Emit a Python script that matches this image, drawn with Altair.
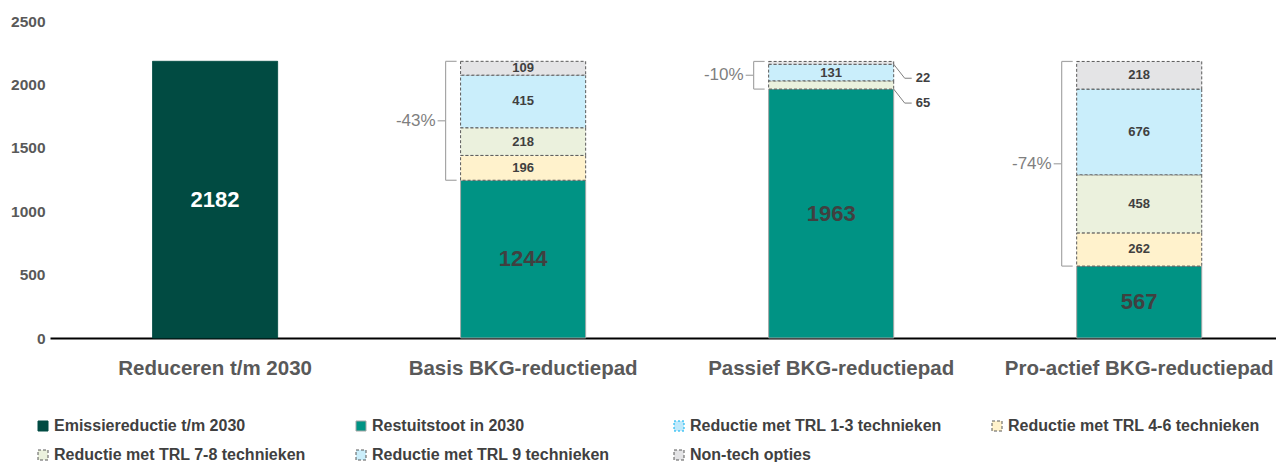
import altair as alt
import pandas as pd

FONT = "Liberation Sans, Arial, sans-serif"

categories = ["Reduceren t/m 2030", "Basis BKG-reductiepad",
              "Passief BKG-reductiepad", "Pro-actief BKG-reductiepad"]
series = ["Emissiereductie t/m 2030", "Restuitstoot in 2030",
          "Reductie met TRL 1-3 technieken", "Reductie met TRL 4-6 technieken",
          "Reductie met TRL 7-8 technieken", "Reductie met TRL 9 technieken",
          "Non-tech opties"]
emissiereductie = [2182, 0, 0, 0]
restuitstoot = [0, 1244, 1963, 567]
trl_1_3 = [0, 0, 0, 0]
trl_4_6 = [0, 196, 0, 262]
trl_7_8 = [0, 218, 65, 458]
trl_9 = [0, 415, 131, 676]
non_tech = [0, 109, 22, 218]
reduction_pct = ["", "-43%", "-10%", "-74%"]
y_ticks = [0, 500, 1000, 1500, 2000, 2500]

fills = ["#014b42", "#009384", "#bfe9fb", "#fff2cc", "#ebf1dd", "#caeefb", "#e4e4e6"]
strokes = ["#014b42", "#a6a6a6", "#00b0f0", "#595959", "#595959", "#595959", "#595959"]
dashes = [[1, 0], [1, 0], [2, 2], [3, 2], [3, 2], [3, 2], [3, 2]]

stack = [emissiereductie, restuitstoot, trl_1_3, trl_4_6, trl_7_8, trl_9, non_tech]
rows = []
for i, c in enumerate(categories):
    base = 0
    for s, vals in zip(series, stack):
        v = vals[i]
        if v > 0:
            rows.append(dict(cat=c, series=s, start=base, end=base + v,
                             mid=base + v / 2, value=v))
            base += v
df = pd.DataFrame(rows)
df["kind"] = "small"
df.loc[df.series == series[0], "kind"] = "white"
df.loc[df.series == series[1], "kind"] = "big"
df.loc[(df.kind == "small") & (df.value < 100), "kind"] = "outside"

br = []
for i, c in enumerate(categories):
    if reduction_pct[i]:
        total = sum(v[i] for v in stack)
        rest = restuitstoot[i]
        br.append(dict(cat=c, top=total, bottom=rest, mid=(total + rest) / 2,
                       label=reduction_pct[i]))
dfb = pd.DataFrame(br)

xscale = alt.Scale(domain=categories, paddingInner=0.594, paddingOuter=0.287, align=0.58)
yscale = alt.Scale(domain=[0, 2500], nice=False, zero=True)

legend = alt.Legend(title=None, orient="none", legendX=-15, legendY=397, columns=4,
                    direction="horizontal", gridAlign="all", columnPadding=47,
                    rowPadding=13, symbolType="square", symbolSize=100,
                    symbolStrokeWidth=1, labelFont=FONT, labelFontSize=16,
                    labelFontWeight="bold", labelColor="#404040", labelLimit=400,
                    labelOffset=3)

xenc = alt.X("cat:N", sort=categories, scale=xscale, title=None,
             axis=alt.Axis(labelFont=FONT, labelFontSize=20.5, labelFontWeight="bold",
                           labelColor="#595959", labelPadding=20, ticks=False,
                           labelLimit=400, domainColor="#000000", domainWidth=2,
                           labelAngle=0))
yenc = alt.Y("start:Q", scale=yscale, title=None,
             axis=alt.Axis(values=y_ticks, format="d", grid=False,
                           domain=False, ticks=False, labelFont=FONT, labelFontSize=15.5,
                           labelFontWeight="bold", labelColor="#595959", labelPadding=5))


def Y(field):
    return alt.Y(field, scale=yscale)


base = alt.Chart(df)
bars = base.mark_bar(strokeWidth=1).encode(
    x=xenc, y=yenc, y2="end:Q",
    fill=alt.Fill("series:N", scale=alt.Scale(domain=series, range=fills), legend=legend),
    stroke=alt.Stroke("series:N", scale=alt.Scale(domain=series, range=strokes), legend=legend),
    strokeDash=alt.StrokeDash("series:N", scale=alt.Scale(domain=series, range=dashes), legend=legend),
)

xc = alt.X("cat:N", sort=categories)
small_lbl = base.transform_filter(alt.datum.kind == "small").mark_text(
    font=FONT, fontSize=13, fontWeight="bold", color="#404040").encode(
    x=xc, y=Y("mid:Q"), text="value:Q")
big_lbl = base.transform_filter(alt.datum.kind == "big").mark_text(
    font=FONT, fontSize=22, fontWeight="bold", color="#404040").encode(
    x=xc, y=Y("mid:Q"), text="value:Q")
white_lbl = base.transform_filter(alt.datum.kind == "white").mark_text(
    font=FONT, fontSize=22, fontWeight="bold", color="#ffffff").encode(
    x=xc, y=Y("mid:Q"), text="value:Q")

out = base.transform_filter(alt.datum.kind == "outside")
xr = alt.X("cat:N", sort=categories, bandPosition=1)
xr2 = alt.X2("cat", bandPosition=1)
lead1 = out.mark_rule(color="#7f7f7f", strokeWidth=1, x2Offset=11, y2Offset=14).encode(
    x=xr, x2=xr2, y=Y("start:Q"), y2="start:Q")
lead2 = out.mark_rule(color="#7f7f7f", strokeWidth=1, xOffset=11, x2Offset=18,
                      yOffset=14, y2Offset=14).encode(
    x=xr, x2=xr2, y=Y("start:Q"), y2="start:Q")
out_lbl = out.mark_text(font=FONT, fontSize=13, fontWeight="bold", color="#404040",
                        align="left", xOffset=22, yOffset=14).encode(
    x=xr, y=Y("start:Q"), text="value:Q")

bb = alt.Chart(dfb)
bx = alt.X("cat:N", sort=categories, bandPosition=0)
bx2 = alt.X2("cat", bandPosition=0)
BC = "#a6a6a6"
vline = bb.mark_rule(color=BC, strokeWidth=1.2, xOffset=-15).encode(
    x=bx, y=Y("top:Q"), y2="bottom:Q")
ttop = bb.mark_rule(color=BC, strokeWidth=1.2, xOffset=-15, x2Offset=-4).encode(
    x=bx, x2=bx2, y=Y("top:Q"), y2="top:Q")
tbot = bb.mark_rule(color=BC, strokeWidth=1.2, xOffset=-15, x2Offset=-4).encode(
    x=bx, x2=bx2, y=Y("bottom:Q"), y2="bottom:Q")
tmid = bb.mark_rule(color=BC, strokeWidth=1.2, xOffset=-15, x2Offset=-23).encode(
    x=bx, x2=bx2, y=Y("mid:Q"), y2="mid:Q")
pct = bb.mark_text(font=FONT, fontSize=17, color="#7f7f7f",
                   align="right", xOffset=-25).encode(x=bx, y=Y("mid:Q"), text="label:N")

chart = alt.layer(bars, small_lbl, big_lbl, white_lbl, lead1, lead2, out_lbl,
                  vline, ttop, tbot, tmid, pct).properties(
    width=1226, height=317,
    autosize=alt.AutoSizeParams(type="none"),
    padding={"left": 42, "top": 13, "right": 0, "bottom": 124},
).configure(font=FONT, view=alt.ViewConfig(stroke="transparent", strokeWidth=0))

chart.save("out.html", embed_options={"renderer": "svg", "actions": False})
